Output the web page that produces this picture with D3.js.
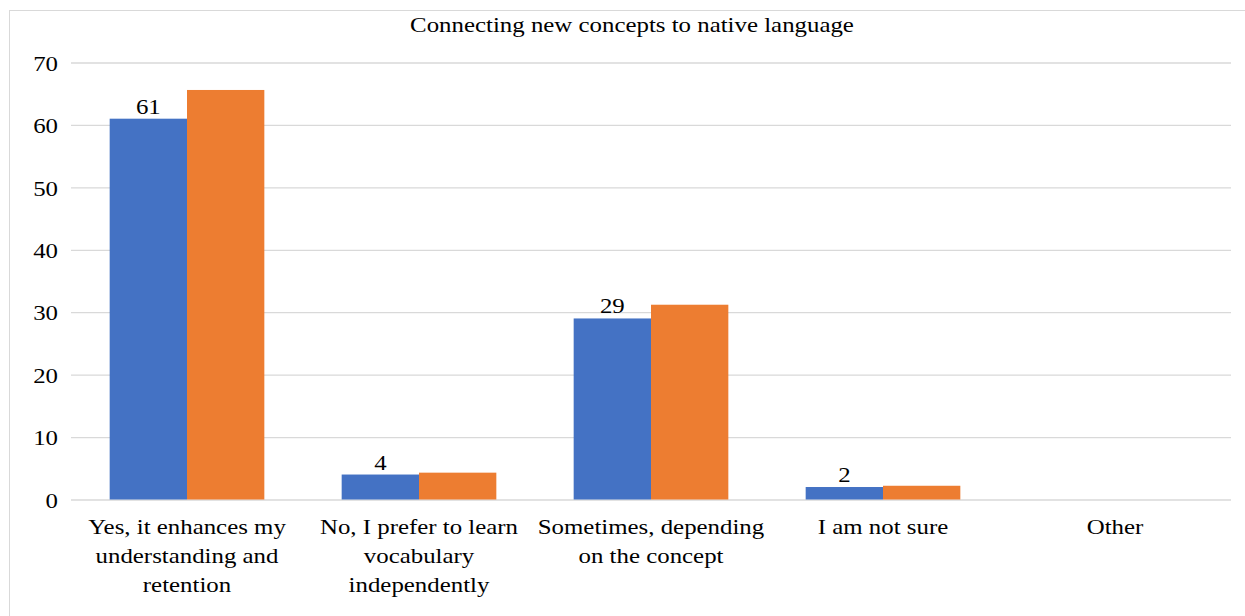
<!DOCTYPE html>
<html>
<head>
<meta charset="utf-8">
<script src="https://cdn.jsdelivr.net/npm/d3@7"></script>
<style>
  html, body { margin: 0; padding: 0; background: #fff; }
  svg text { font-family: "Liberation Serif", "DejaVu Serif", "Noto Serif", serif; fill: #000; }
</style>
</head>
<body>
<svg id="chart"></svg>
<script>
// dados do grafico
const titulo = "Connecting new concepts to native language";
// quebras de linha como no original
const categorias = [
  "Yes, it enhances my|understanding and|retention",
  "No, I prefer to learn|vocabulary|independently",
  "Sometimes, depending|on the concept",
  "I am not sure",
  "Other"
];
const serie_contagem = [61, 4, 29, 2, 0];
const serie_percent = [65.6, 4.3, 31.2, 2.2, 0];
const ticks_y = [0, 10, 20, 30, 40, 50, 60, 70];

const W = 1245, H = 616;
const M = { left: 71, right: 14, top: 62.5, bottom: 116.5 };
const FS = "22px";
// o original parece esticado na horizontal
const SX = 1.13;

const $svg = d3.select("#chart").attr("width", W).attr("height", H);

// moldura
$svg.append("rect")
  .attr("x", 9.5).attr("y", 10.5)
  .attr("width", 1260).attr("height", 640)
  .attr("fill", "none").attr("stroke", "#d9d9d9").attr("stroke-width", 1);

// texto esticado ancorado em (x, y)
const texto = function(px, py) {
  return $svg.append("g")
    .attr("transform", `translate(${px},${py}) scale(${SX},1)`)
    .append("text")
    .attr("text-anchor", "middle")
    .style("font-size", FS);
};

// titulo
texto(632, 32).text(titulo);

// escalas
const x = d3.scaleBand()
  .domain(categorias)
  .range([M.left, W - M.right]);

const x_serie = d3.scaleBand()
  .domain(["contagem", "percent"])
  .range([0, x.bandwidth()])
  .paddingOuter(0.5)
  .paddingInner(0);

const y = d3.scaleLinear()
  .domain([0, 70])
  .range([H - M.bottom, M.top]);

// grade
const $grade = $svg.append("g")
  .attr("transform", `translate(${M.left},0)`)
  .call(d3.axisLeft(y).tickValues(ticks_y).tickSize(-(W - M.left - M.right)).tickFormat(""));
$grade.select(".domain").remove();
$grade.selectAll("line").attr("stroke", "#d9d9d9").attr("stroke-width", 1.3);

// eixo y (rotulos)
const $eixo_y = $svg.append("g")
  .attr("transform", `translate(${M.left - 13},0)`)
  .call(d3.axisLeft(y).tickValues(ticks_y).tickSize(0).tickPadding(0));
$eixo_y.select(".domain").remove();
$eixo_y.attr("font-family", null).attr("font-size", null);
$eixo_y.selectAll("text")
  .style("font-size", FS)
  .attr("dy", "0.35em")
  .attr("transform", `scale(${SX},1)`);

// barras
const cores = { contagem: "#4472C4", percent: "#ED7D31" };
const dados = categorias.map((c, i) => ({
  cat: c,
  contagem: serie_contagem[i],
  percent: serie_percent[i]
}));

const $grupos = $svg.selectAll("g.cat")
  .data(dados)
  .enter()
  .append("g")
  .classed("cat", true)
  .attr("transform", d => `translate(${x(d.cat)},0)`);

["contagem", "percent"].forEach(serie => {
  $grupos.append("rect")
    .attr("x", x_serie(serie))
    .attr("y", d => y(d[serie]))
    .attr("width", x_serie.bandwidth())
    .attr("height", d => y(0) - y(d[serie]))
    .attr("fill", cores[serie]);
});

// rotulos de dados (so na serie azul)
dados.filter(d => d.contagem > 0).forEach(d => {
  texto(x(d.cat) + x_serie("contagem") + x_serie.bandwidth() / 2, y(d.contagem) - 5)
    .text(d.contagem);
});

// rotulos das categorias
categorias.forEach(c => {
  const $t = texto(x(c) + x.bandwidth() / 2, 0);
  c.split("|").forEach((linha, i) => {
    $t.append("tspan")
      .attr("x", 0)
      .attr("y", 534 + i * 29)
      .text(linha);
  });
});
</script>
</body>
</html>
